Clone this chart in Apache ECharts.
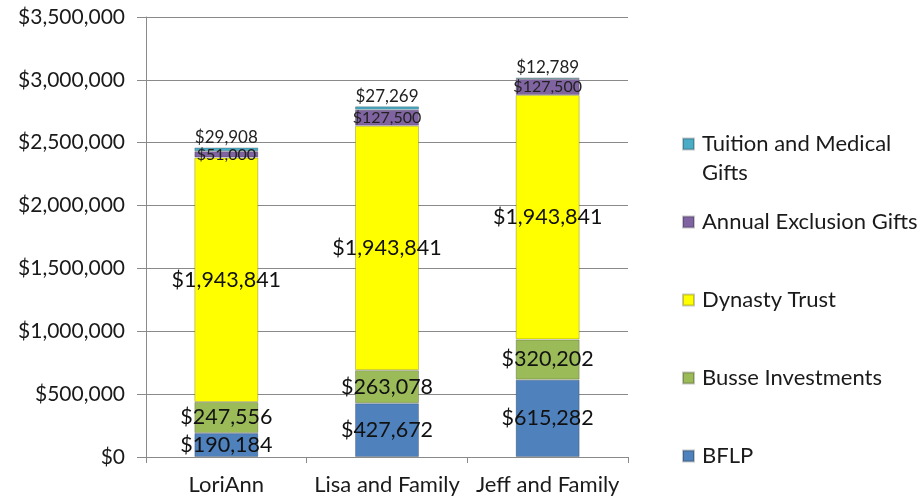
<!DOCTYPE html>
<html>
<head>
<meta charset="utf-8">
<script src="https://cdn.jsdelivr.net/npm/echarts@6/dist/echarts.min.js"></script>
<style>
  html, body { margin: 0; padding: 0; background: #fff; }
  #main { width: 923px; height: 502px; }
</style>
</head>
<body>
<div id="main"></div>
<script>
// categories + series values
const people = ['LoriAnn', 'Lisa and Family', 'Jeff and Family']
const bflp = [190184, 427672, 615282]
const busse = [247556, 263078, 320202]
const dynasty = [1943841, 1943841, 1943841]
const annual = [51000, 127500, 127500]
const tuition = [29908, 27269, 12789]

const fontName = 'Lato'
const money = (v) => '$' + Number(v).toLocaleString('en-US')

const chart = echarts.init(document.getElementById('main'))

function barSeries(name, data, color, labelOpts) {
  return {
    name: name,
    type: 'bar',
    stack: 'total',
    barWidth: 64,
    data: data,
    itemStyle: {
      color: color,
      borderColor: 'rgba(0,0,0,0.22)',
      borderWidth: 1
    },
    label: Object.assign({
      show: true,
      position: 'inside',
      color: '#111',
      fontFamily: fontName,
      fontSize: 21.5,
      formatter: (p) => money(p.value)
    }, labelOpts || {})
  }
}

chart.setOption({
  animation: false,
  grid: { left: 146, right: 295, top: 17, bottom: 45, containLabel: false },
  legend: {
    orient: 'vertical',
    left: 677,
    top: 126,
    itemWidth: 11,
    itemHeight: 11,
    itemGap: 52,
    icon: 'rect',
    data: ['Tuition and Medical Gifts', 'Annual Exclusion Gifts', 'Dynasty Trust', 'Busse Investments', 'BFLP'],
    formatter: (n) => n === 'Tuition and Medical Gifts' ? 'Tuition and Medical' : n,
    textStyle: { fontFamily: fontName, fontSize: 22, color: '#1a1a1a', lineHeight: 26, padding: [0, 0, 0, 3] }
  },
  graphic: [{
    type: 'text',
    left: 702,
    top: 162,
    style: { text: 'Gifts', font: '22px Lato', fill: '#1a1a1a' }
  }],
  xAxis: {
    type: 'category',
    data: people,
    axisLine: { lineStyle: { color: '#8a8a8a', width: 1 } },
    axisTick: { show: true, length: 6, lineStyle: { color: '#8a8a8a' } },
    axisLabel: { interval: 0, fontFamily: fontName, fontSize: 22, color: '#1a1a1a', margin: 17 }
  },
  yAxis: {
    type: 'value',
    min: 0,
    max: 3500000,
    interval: 500000,
    axisLine: { show: true, lineStyle: { color: '#8a8a8a', width: 1 } },
    axisTick: { show: true, length: 9, lineStyle: { color: '#8a8a8a' } },
    splitLine: { show: true, lineStyle: { color: '#8a8a8a', width: 1 } },
    axisLabel: { fontFamily: fontName, fontSize: 21, color: '#1a1a1a', margin: 21, formatter: money }
  },
  series: [
    barSeries('BFLP', bflp, '#4f81bd'),
    barSeries('Busse Investments', busse, '#9bbb59'),
    barSeries('Dynasty Trust', dynasty, '#ffff00'),
    barSeries('Annual Exclusion Gifts', annual, '#8064a2', { fontSize: 16, color: '#222' }),
    barSeries('Tuition and Medical Gifts', tuition, '#4bacc6', { position: 'top', distance: 1, fontSize: 17, color: '#222' })
  ]
})
</script>
</body>
</html>
